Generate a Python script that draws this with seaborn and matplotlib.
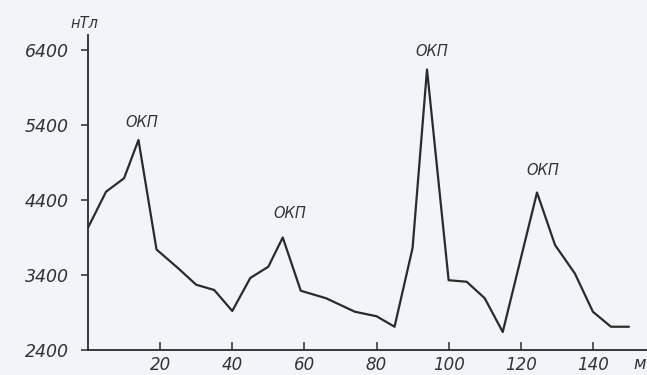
import matplotlib
matplotlib.use("Agg")
import matplotlib.pyplot as plt
import seaborn as sns
import pandas as pd

# Distance along profile, m
distance_m = [0, 5, 10, 14, 19, 25, 30, 35, 40, 45, 50, 54, 59, 66, 74, 80, 85,
              90, 94, 100, 105, 110, 115, 124.5, 129.5, 135, 140, 145, 150]
# Magnetic field, nT
field_nt = [4030, 4510, 4690, 5200, 3740, 3490, 3270, 3200, 2920, 3360, 3510, 3900,
            3190, 3090, 2910, 2850, 2710, 3760, 6140, 3330, 3310, 3090, 2640,
            4500, 3800, 3420, 2910, 2710, 2710]

# Peak annotations
peak_x = [14, 54, 94, 124.5]
peak_y = [5200, 3900, 6140, 4500]
peak_label = "ОКП"

y_ticks = [2400, 3400, 4400, 5400, 6400]
x_ticks = [20, 40, 60, 80, 100, 120, 140]

df = pd.DataFrame({"x": distance_m, "y": field_nt})

sns.set_style("ticks")
plt.rcParams["font.family"] = ["DejaVu Sans"]
bg = "#f1f5f9"
ink = "#2b2b2b"

fig = plt.figure(figsize=(6.47, 3.75), dpi=100, facecolor=bg)
ax = fig.add_axes([0.136, 0.0667, 0.864, 0.84])
ax.set_facecolor(bg)

sns.lineplot(data=df, x="x", y="y", ax=ax, color=ink, linewidth=1.6,
             estimator=None, sort=False)

ax.set_xlim(0, 155)
ax.set_ylim(2400, 6600)
ax.set_xticks(x_ticks)
ax.set_yticks(y_ticks)
ax.set_xlabel("")
ax.set_ylabel("")

for s in ["top", "right"]:
    ax.spines[s].set_visible(False)
for s in ["left", "bottom"]:
    ax.spines[s].set_color(ink)
    ax.spines[s].set_linewidth(1.3)

ax.tick_params(axis="x", direction="in", length=6, width=1.1, color=ink,
               pad=4, labelsize=12, labelcolor="#333333")
ax.tick_params(axis="y", direction="out", length=5, width=1.1, color=ink,
               pad=9, labelsize=12.5, labelcolor="#333333")
for lab in ax.get_xticklabels() + ax.get_yticklabels():
    lab.set_fontstyle("italic")

offsets = [(3, 10), (7, 16), (5, 10), (6, 14)]
for px, py, off in zip(peak_x, peak_y, offsets):
    ax.annotate(peak_label, (px, py), xytext=(off[0] * 0.72, off[1] * 0.72),
                textcoords="offset points", ha="center", va="bottom",
                fontsize=10.5, fontstyle="italic", color="#333333")

fig.text(84 / 647, 1 - 24 / 375, "нТл", ha="center", va="center",
         fontsize=10.5, fontstyle="italic", color="#333333")
fig.text(640 / 647, 1 - 364 / 375, "м", ha="center", va="center",
         fontsize=12, fontstyle="italic", color="#333333")

fig.savefig("out.png", dpi=100, facecolor=bg)
